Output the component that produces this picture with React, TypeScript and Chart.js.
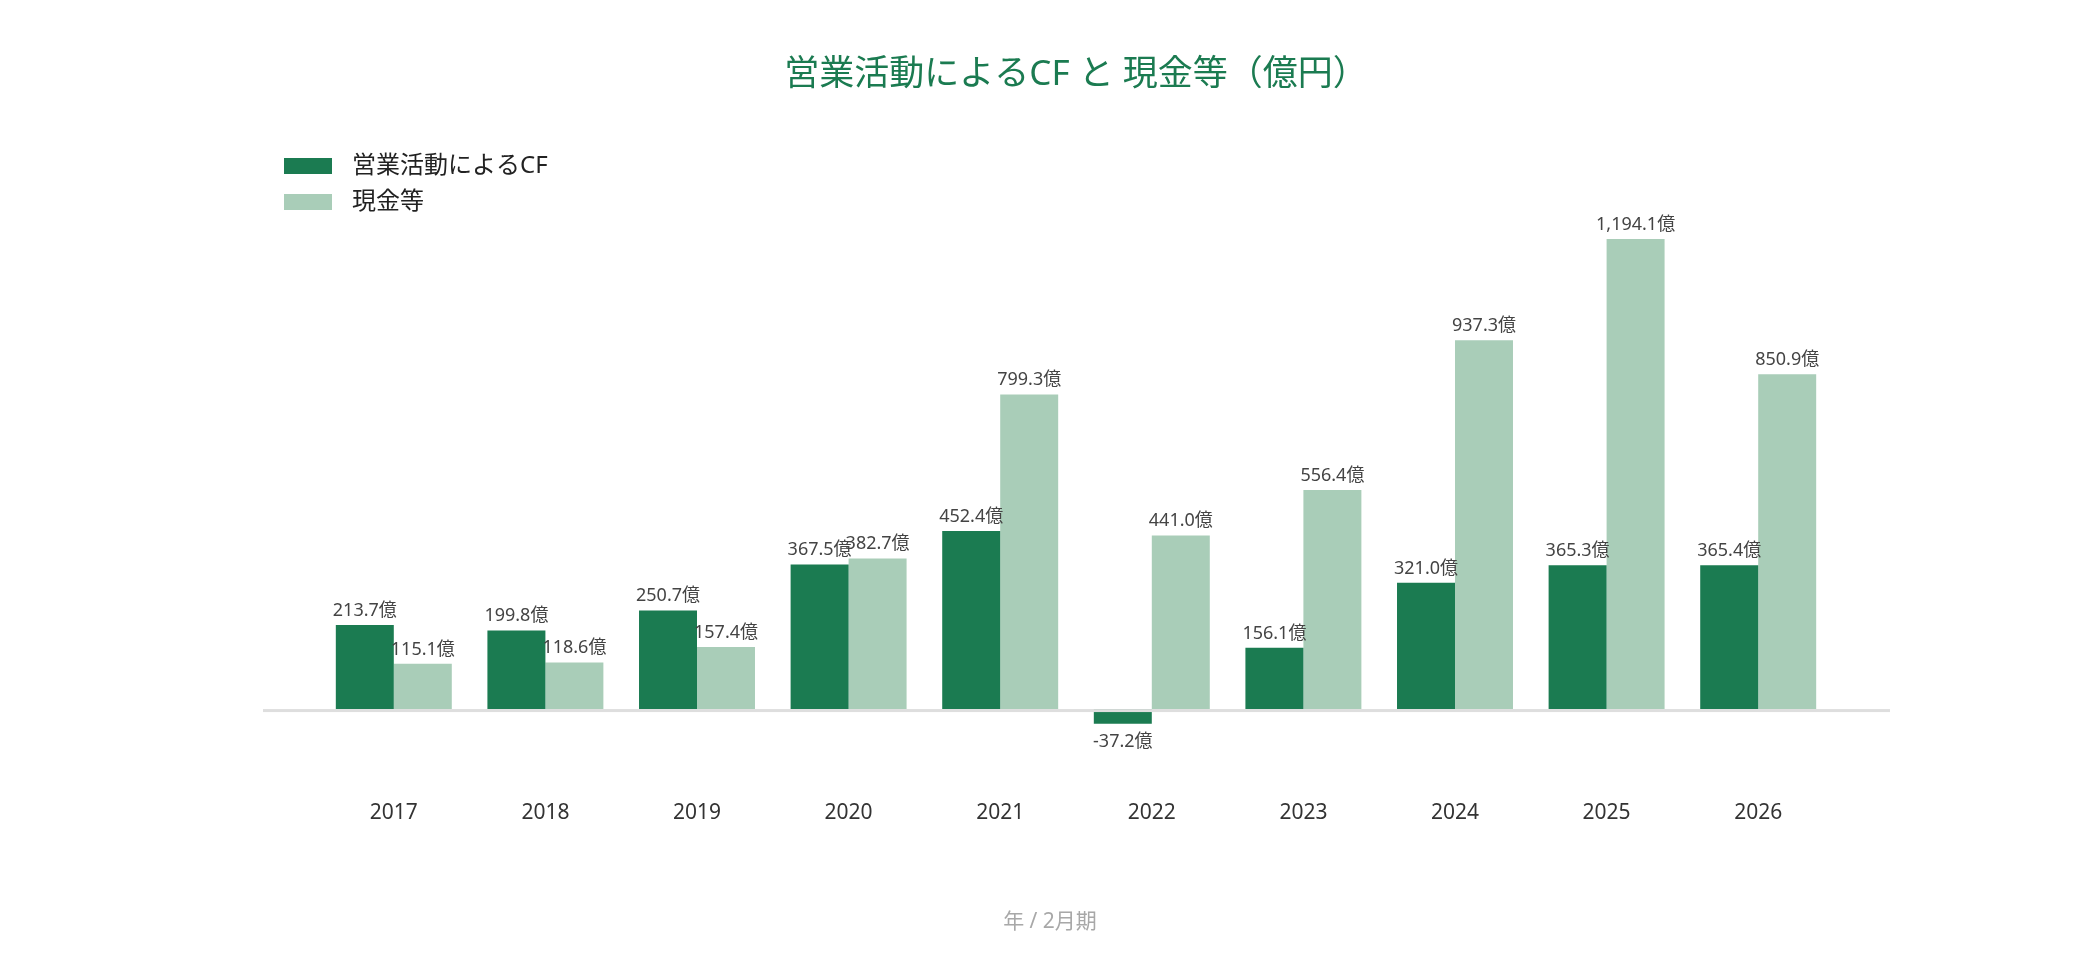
import React, { useEffect, useRef } from 'react'
import { Chart, registerables, Plugin } from 'chart.js'

Chart.register(...registerables)

const FONT = '"Noto Sans", "Noto Sans CJK JP", sans-serif'
Chart.defaults.font.family = FONT

// 決算期（2月期）
const years = ['2017', '2018', '2019', '2020', '2021', '2022', '2023', '2024', '2025', '2026']
// 営業活動によるCF（億円）
const operatingCF = [213.7, 199.8, 250.7, 367.5, 452.4, -37.2, 156.1, 321.0, 365.3, 365.4]
// 現金等（億円）
const cash = [115.1, 118.6, 157.4, 382.7, 799.3, 441.0, 556.4, 937.3, 1194.1, 850.9]

const seriesNames = ['営業活動によるCF', '現金等']
const seriesColors = ['#1b7b51', '#a9cdb8']
const titleText = '営業活動によるCF と 現金等（億円）'
const axisTitle = '年 / 2月期'
const yMin = -200
const yMax = 1400

const fmt = (v: number) =>
  v.toLocaleString('en-US', { minimumFractionDigits: 1, maximumFractionDigits: 1 }) + '億'

// ゼロ線（プロット領域より少し長い）
const zeroLine: Plugin<'bar'> = {
  id: 'zeroLine',
  afterDatasetsDraw (chart) {
    const { ctx, chartArea } = chart
    const y0 = chart.scales.y.getPixelForValue(0)
    ctx.save()
    ctx.fillStyle = '#dedede'
    ctx.fillRect(chartArea.left - 55, y0, chartArea.right - chartArea.left + 111, 3)
    ctx.restore()
  },
}

// 棒の上（負の値は下）に数値ラベル
const valueLabels: Plugin<'bar'> = {
  id: 'valueLabels',
  afterDatasetsDraw (chart) {
    const { ctx } = chart
    ctx.save()
    ctx.font = `18px ${FONT}`
    ctx.fillStyle = '#444'
    ctx.textAlign = 'center'
    ctx.textBaseline = 'alphabetic'
    chart.data.datasets.forEach((ds, i) => {
      const meta = chart.getDatasetMeta(i)
      meta.data.forEach((bar: any, j) => {
        const v = ds.data[j] as number
        ctx.fillText(fmt(v), bar.x, v >= 0 ? bar.y - 9 : bar.y + 23)
      })
    })
    ctx.restore()
  },
}

// 縦並びの凡例
const stackedLegend: Plugin<'bar'> = {
  id: 'stackedLegend',
  afterDraw (chart) {
    const { ctx, chartArea } = chart
    const x = chartArea.left - 34
    ctx.save()
    chart.data.datasets.forEach((ds, i) => {
      const top = chartArea.top + i * 36
      ctx.fillStyle = ds.backgroundColor as string
      ctx.fillRect(x, top, 48, 16)
      ctx.fillStyle = '#222'
      ctx.font = `24px ${FONT}`
      ctx.textAlign = 'left'
      ctx.textBaseline = 'middle'
      ctx.fillText(ds.label as string, x + 68, top + 8)
    })
    ctx.restore()
  },
}

export default function App () {
  const canvasRef = useRef<HTMLCanvasElement>(null)
  const chartRef = useRef<Chart<'bar'> | null>(null)

  useEffect(() => {
    if (chartRef.current) chartRef.current.destroy()
    if (!canvasRef.current) return

    chartRef.current = new Chart(canvasRef.current, {
      type: 'bar',
      data: {
        labels: years,
        datasets: [
          { label: seriesNames[0], data: operatingCF, backgroundColor: seriesColors[0], borderWidth: 0 },
          { label: seriesNames[1], data: cash, backgroundColor: seriesColors[1], borderWidth: 0 },
        ],
      },
      options: {
        responsive: true,
        maintainAspectRatio: false,
        animation: false,
        categoryPercentage: 0.765,
        barPercentage: 1,
        layout: { padding: { left: 258, right: 258, top: 0, bottom: 0 } },
        plugins: {
          legend: { display: false },
          tooltip: { enabled: false },
          title: {
            display: true,
            text: titleText,
            color: '#1b7b51',
            fullSize: false,
            font: { size: 35, weight: 'normal' },
            padding: { top: 46, bottom: 62 },
          },
          subtitle: {
            display: true,
            position: 'bottom',
            text: axisTitle,
            color: '#a8a8a8',
            font: { size: 21, weight: 'normal' },
            padding: { top: 0, bottom: 17 },
          },
        },
        scales: {
          x: {
            grid: { display: false },
            border: { display: false },
            ticks: { color: '#333', font: { size: 21 }, padding: 5 },
            afterFit: (scale) => { scale.height = 122 },
          },
          y: {
            min: yMin,
            max: yMax,
            grid: { display: false },
            border: { display: false },
            ticks: { display: false },
            afterFit: (scale) => { scale.width = 52 },
          },
        },
      },
      plugins: [zeroLine, valueLabels, stackedLegend],
    })

    return () => {
      if (chartRef.current) {
        chartRef.current.destroy()
        chartRef.current = null
      }
    }
  }, [])

  return (
    <div style={{ position: 'relative', width: '100%', height: 944 }}>
      <canvas ref={canvasRef} />
    </div>
  )
}
